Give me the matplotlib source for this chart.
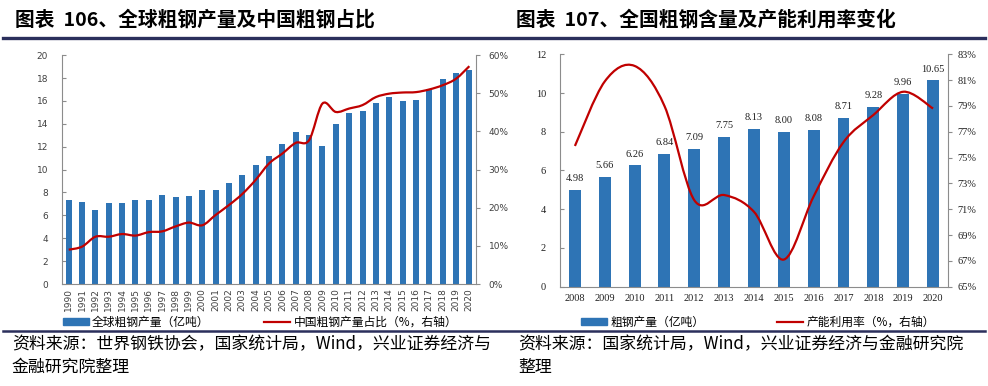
import matplotlib
matplotlib.use("Agg")
import matplotlib.pyplot as plt
import numpy as np
from matplotlib.path import Path
from matplotlib.patches import PathPatch
from matplotlib.lines import Line2D
from matplotlib.ticker import FuncFormatter

plt.rcParams['font.family'] = ['Noto Sans CJK SC', 'DejaVu Sans']

# ---- data: left chart ----
years_l = [str(y) for y in range(1990, 2021)]
world_steel = [7.31, 7.17, 6.44, 7.05, 7.05, 7.31, 7.31, 7.78, 7.60, 7.69,
               8.24, 8.24, 8.82, 9.49, 10.39, 11.15, 12.25, 13.27, 13.00, 12.05,
               13.96, 14.92, 15.15, 15.79, 16.31, 15.97, 16.11, 17.04, 17.88, 18.46,
               18.66]
china_share = [9.0, 9.8, 12.4, 12.4, 13.1, 12.7, 13.6, 13.8, 15.1, 16.1,
               15.4, 18.1, 20.7, 23.6, 27.3, 31.6, 34.2, 37.0, 37.7, 47.3,
               45.1, 46.0, 46.9, 49.0, 49.9, 50.2, 50.3, 51.0, 52.1, 53.8,
               57.1]

# ---- data: right chart ----
years_r = [str(y) for y in range(2008, 2021)]
crude_steel = [4.98, 5.66, 6.26, 6.84, 7.09, 7.75, 8.13, 8.00, 8.08, 8.71, 9.28, 9.96, 10.65]
utilization = [75.9, 80.9, 82.1, 79.0, 71.7, 72.1, 70.8, 67.1, 72.0, 76.2, 78.3, 80.1, 78.8]

BLUE = '#2E74B5'
RED = '#C00000'
GREY = '#8C8C8C'
NAVY = '#2B2F5C'


def smooth_line(ax, xs, ys, **kw):
    # excel-like smoothed line: cubic bezier segments through the points
    xs = np.asarray(xs, float)
    ys = np.asarray(ys, float)
    pts = np.column_stack([xs, ys])
    n = len(pts)
    verts = [pts[0]]
    codes = [Path.MOVETO]
    for i in range(n - 1):
        p0 = pts[i - 1] if i > 0 else pts[i]
        p1 = pts[i]
        p2 = pts[i + 1]
        p3 = pts[i + 2] if i + 2 < n else pts[i + 1]
        c1 = p1 + (p2 - p0) / 6.0
        c2 = p2 - (p3 - p1) / 6.0
        verts += [c1, c2, p2]
        codes += [Path.CURVE4] * 3
    patch = PathPatch(Path(verts, codes), facecolor='none', transform=ax.transData, **kw)
    ax.add_patch(patch)
    return patch


def style_axes(ax, ax2):
    for a in (ax, ax2):
        a.spines['top'].set_visible(False)
        for s in ('left', 'right', 'bottom'):
            a.spines[s].set_color(GREY)
            a.spines[s].set_linewidth(0.8)
    ax.spines['right'].set_visible(False)
    ax2.spines['left'].set_visible(False)
    ax2.spines['bottom'].set_visible(False)


fig = plt.figure(figsize=(9.88, 3.86), dpi=100)

# ================= left chart =================
ax = fig.add_axes([0.0628, 0.2642, 0.419, 0.593])
x = np.arange(len(years_l))
ax.bar(x, world_steel, width=0.45, color=BLUE, zorder=2)
ax.set_xlim(-0.5, len(years_l) - 0.5)
ax.set_ylim(0, 20)
ax.set_yticks(range(0, 21, 2))
ax.set_xticks(x)
ax.set_xticklabels(years_l, rotation=90, fontsize=6.5, family='DejaVu Sans', color='#404040')
ax.tick_params(axis='x', length=0, pad=3)
ax.tick_params(axis='y', direction='in', length=3, color=GREY, labelsize=6.5, pad=10,
               labelcolor='#404040')
for lab in ax.get_yticklabels():
    lab.set_family('DejaVu Sans')
ax2 = ax.twinx()
ax2.set_ylim(0, 60)
ax2.set_yticks(range(0, 61, 10))
ax2.yaxis.set_major_formatter(FuncFormatter(lambda v, p: f'{v:.0f}%'))
ax2.tick_params(axis='y', direction='out', length=3, color=GREY, labelsize=6.5, pad=6,
                labelcolor='#404040')
for lab in ax2.get_yticklabels():
    lab.set_family('DejaVu Sans')
smooth_line(ax2, x, china_share, edgecolor=RED, linewidth=1.6, zorder=3)
style_axes(ax, ax2)

# ================= right chart =================
bx = fig.add_axes([0.5668, 0.2573, 0.3927, 0.602])
xr = np.arange(len(years_r))
bars = bx.bar(xr, crude_steel, width=0.4, color=BLUE, zorder=2)
bx.set_xlim(-0.5, len(years_r) - 0.5)
bx.set_ylim(0, 12)
bx.set_yticks(range(0, 13, 2))
bx.set_xticks(xr)
bx.set_xticklabels(years_r, fontsize=7.5, family='Liberation Serif', color='#202020')
bx.tick_params(axis='x', length=0, pad=5)
bx.tick_params(axis='y', direction='in', length=3, color=GREY, labelsize=7.5, pad=10,
               labelcolor='#202020')
for lab in bx.get_yticklabels():
    lab.set_family('Liberation Serif')
bx.bar_label(bars, fmt='%.2f', padding=5, fontsize=7.5, family='Liberation Serif',
             color='#202020')
bx2 = bx.twinx()
bx2.set_ylim(65, 83)
bx2.set_yticks(range(65, 84, 2))
bx2.yaxis.set_major_formatter(FuncFormatter(lambda v, p: f'{v:.0f}%'))
bx2.tick_params(axis='y', direction='out', length=3, color=GREY, labelsize=7.5, pad=4,
                labelcolor='#202020')
for lab in bx2.get_yticklabels():
    lab.set_family('Liberation Serif')
smooth_line(bx2, xr, utilization, edgecolor=RED, linewidth=1.6, zorder=3)
style_axes(bx, bx2)

# ================= legends =================
leg_kw = dict(loc='center', ncol=2, frameon=False, fontsize=8.5, handlelength=2.2,
              handleheight=0.5, handletextpad=0.3)
fig.legend([plt.Rectangle((0, 0), 1, 1, color=BLUE), Line2D([], [], color=RED, lw=1.6)],
           ['全球粗钢产量（亿吨）', '中国粗钢产量占比（%，右轴）'],
           bbox_to_anchor=(0.263, 1 - 322 / 386), columnspacing=4.6, **leg_kw)
fig.legend([plt.Rectangle((0, 0), 1, 1, color=BLUE), Line2D([], [], color=RED, lw=1.6)],
           ['粗钢产量（亿吨）', '产能利用率（%，右轴）'],
           bbox_to_anchor=(0.767, 1 - 322 / 386), columnspacing=6.1, **leg_kw)

# ================= titles, rules, sources =================
fig.text(15 / 988, 1 - 20 / 386, '图表  106、全球粗钢产量及中国粗钢占比', fontsize=14.2,
         fontweight='bold', va='center', ha='left')
fig.text(516 / 988, 1 - 20 / 386, '图表  107、全国粗钢含量及产能利用率变化', fontsize=14.2,
         fontweight='bold', va='center', ha='left')
fig.add_artist(Line2D([3 / 988, 985 / 988], [1 - 38 / 386, 1 - 38 / 386],
                      transform=fig.transFigure, color=NAVY, lw=2.4))
fig.add_artist(Line2D([3 / 988, 985 / 988], [1 - 331 / 386, 1 - 331 / 386],
                      transform=fig.transFigure, color=NAVY, lw=1.8))

fig.text(12 / 988, 1 - 344 / 386, '资料来源：世界钢铁协会，国家统计局，Wind，兴业证券经济与',
         fontsize=12.2, va='center', ha='left')
fig.text(12 / 988, 1 - 367 / 386, '金融研究院整理', fontsize=12.2, va='center', ha='left')
fig.text(518 / 988, 1 - 344 / 386, '资料来源：国家统计局，Wind，兴业证券经济与金融研究院',
         fontsize=12.2, va='center', ha='left')
fig.text(518 / 988, 1 - 367 / 386, '整理', fontsize=12.2, va='center', ha='left')

fig.savefig('out.png', dpi=100)
